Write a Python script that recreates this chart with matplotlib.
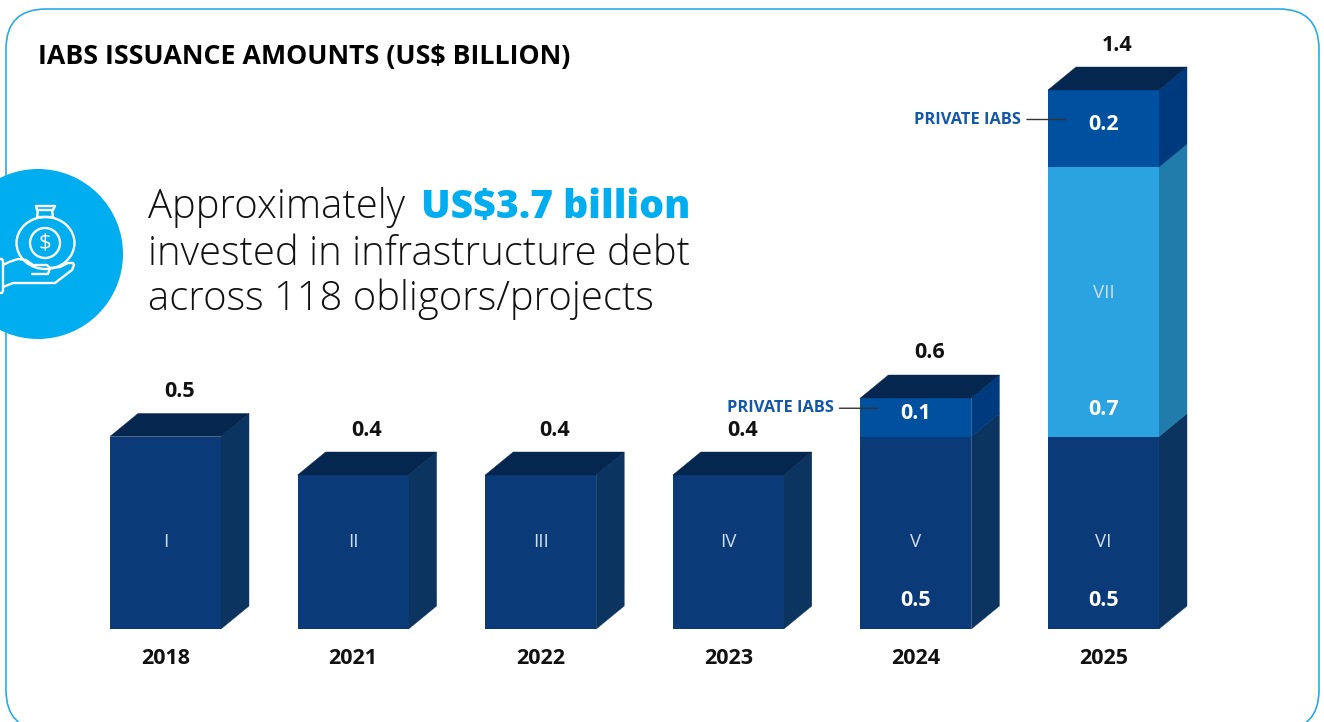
import matplotlib

matplotlib.use("Agg")
import matplotlib.pyplot as plt
from matplotlib.patches import Circle, Ellipse, FancyBboxPatch, Polygon

WIDTH_PX = 1324
HEIGHT_PX = 722
DPI = 100

# chart values, US$ billion
YEARS = ["2018", "2021", "2022", "2023", "2024", "2025"]
SERIES_NAMES = ["I", "II", "III", "IV", "V", "VI"]
BASE = [0.5, 0.4, 0.4, 0.4, 0.5, 0.5]
UPPER = [0, 0, 0, 0, 0, 0.7]
UPPER_NAMES = ["", "", "", "", "", "VII"]
PRIVATE = [0, 0, 0, 0, 0.1, 0.2]
TOTALS = [0.5, 0.4, 0.4, 0.4, 0.6, 1.4]

# axis scale and box geometry
PX_PER_BILLION = 385
BASELINE_PX = 629
STEP_PX = 187.6
FIRST_CENTRE_PX = 165.5
BAR_PX = 111
DEPTH_X_PX = 28
DEPTH_Y_PX = 23

NAVY = "#0A3A78"
NAVY_SIDE = "#0C3460"
TOP_FACE = "#05274F"
SKY = "#2BA3E0"
SKY_SIDE = "#217CAB"
ROYAL = "#0050A0"
ROYAL_SIDE = "#003A7E"
CYAN = "#00AEEF"
FRAME = "#29ABE2"
LABEL_BLUE = "#1257A8"
NUMERAL = "#D0DEEC"

plt.rcParams["font.family"] = ["Open Sans", "DejaVu Sans"]

fig = plt.figure(figsize=(WIDTH_PX / DPI, HEIGHT_PX / DPI), dpi=DPI)

# backdrop layer in pixel units: frame, badge and headline
bg = fig.add_axes([0, 0, 1, 1])
bg.set_xlim(0, WIDTH_PX)
bg.set_ylim(HEIGHT_PX, 0)
bg.axis("off")

bg.add_patch(FancyBboxPatch((6, 9), 1313, 721, boxstyle="round,pad=0,rounding_size=40",
                            facecolor="white", edgecolor=FRAME, linewidth=1.2))
bg.add_patch(Circle((38, 254), 85, facecolor=CYAN, edgecolor="none"))


def icon_line(xs, ys):
    bg.plot(xs, ys, color="white", linewidth=1.7, solid_capstyle="round", solid_joinstyle="round")


# money bag held over an open hand
bg.add_patch(Ellipse((45.5, 243), 58, 52, fill=False, edgecolor="white", linewidth=1.7))
bg.add_patch(Circle((45, 243), 15, fill=False, edgecolor="white", linewidth=1.7))
bg.text(45, 243.5, "$", color="white", fontsize=16, ha="center", va="center")
icon_line([36, 55, 53, 37, 36], [206, 206, 210, 210, 206])
icon_line([38, 37, 53, 52], [210, 217, 217, 210])
icon_line([3, 9, 18, 26, 33, 47, 50, 48, 32], [265, 262, 259, 260, 265, 265, 268, 274, 274])
icon_line([50, 60, 68, 73, 74, 72, 55, 13, 3], [268, 267, 263, 263, 265, 270, 283, 283, 287])
icon_line([-1, 2, 3, 3, 2, -1], [259, 259, 261, 291, 293, 293])

bg.text(38, 64, "IABS ISSUANCE AMOUNTS (US$ BILLION)", color="black", fontsize=19.3,
        fontweight="bold", va="baseline")
bg.text(148, 218, "Approximately", color="#111111", fontsize=28.8, fontweight=300, va="baseline")
bg.text(421, 218, "US$3.7 billion", color=CYAN, fontsize=28.2, fontweight=800, va="baseline")
bg.text(148, 265, "invested in infrastructure debt", color="#111111", fontsize=28.8,
        fontweight=300, va="baseline")
bg.text(148, 310, "across 118 obligors/projects", color="#111111", fontsize=28.8,
        fontweight=300, va="baseline")

# chart layer: x in category positions, y in US$ billion
ax = fig.add_axes([0, 0, 1, 1], facecolor="none")
ax.set_xlim(-FIRST_CENTRE_PX / STEP_PX, (WIDTH_PX - FIRST_CENTRE_PX) / STEP_PX)
ax.set_ylim(-(HEIGHT_PX - BASELINE_PX) / PX_PER_BILLION, BASELINE_PX / PX_PER_BILLION)
ax.axis("off")

bar_w = BAR_PX / STEP_PX
depth_x = DEPTH_X_PX / STEP_PX
depth_y = DEPTH_Y_PX / PX_PER_BILLION


def px_label(text, x, y, dy_px=0, **kw):
    ax.annotate(text, (x, y), xytext=(0, dy_px), textcoords="offset pixels",
                ha=kw.pop("ha", "center"), va=kw.pop("va", "center"), **kw)


def draw_segment(i, bottom, height, front, side):
    left = i - bar_w / 2
    right = i + bar_w / 2
    top = bottom + height
    ax.bar(i, height, width=bar_w, bottom=bottom, color=front, linewidth=0, zorder=3)
    ax.add_patch(Polygon([(right, bottom), (right + depth_x, bottom + depth_y),
                          (right + depth_x, top + depth_y), (right, top)],
                         facecolor=side, edgecolor=side, linewidth=0.3, zorder=2))
    return left, right, top


for i, year in enumerate(YEARS):
    left, right, top = draw_segment(i, 0, BASE[i], NAVY, NAVY_SIDE)
    px_label(SERIES_NAMES[i], i, 0, dy_px=87, color=NUMERAL, fontsize=13.5, zorder=6)
    px_label(year, i, 0, dy_px=-29, color="#111111", fontsize=15.5, fontweight="bold")

    # only stacked columns carry their base value inside the box
    if UPPER[i] or PRIVATE[i]:
        px_label(f"{BASE[i]:.1f}", i, 0, dy_px=29, color="white", fontsize=15.5,
                 fontweight="bold", zorder=6)

    if UPPER[i]:
        bottom = top
        left, right, top = draw_segment(i, bottom, UPPER[i], SKY, SKY_SIDE)
        px_label(UPPER_NAMES[i], i, bottom + UPPER[i] / 2, dy_px=9, color=NUMERAL,
                 fontsize=13.5, zorder=6)
        px_label(f"{UPPER[i]:.1f}", i, bottom, dy_px=27, color="white", fontsize=15.5,
                 fontweight="bold", zorder=6)

    if PRIVATE[i]:
        bottom = top
        left, right, top = draw_segment(i, bottom, PRIVATE[i], ROYAL, ROYAL_SIDE)
        mid = bottom + PRIVATE[i] / 2
        px_label(f"{PRIVATE[i]:.1f}", i, mid, dy_px=4, color="white", fontsize=15.5,
                 fontweight="bold", zorder=6)
        # leader runs from the caption into the private segment
        ax.annotate("", xy=(left + 18 / STEP_PX, mid + 9 / PX_PER_BILLION),
                    xytext=(left - 21 / STEP_PX, mid + 9 / PX_PER_BILLION),
                    arrowprops=dict(arrowstyle="-", color="#333333", linewidth=1, shrinkA=0, shrinkB=0),
                    zorder=5)
        px_label("PRIVATE IABS", left - 27 / STEP_PX, mid, dy_px=9, ha="right", color=LABEL_BLUE,
                 fontsize=11.8, fontweight="bold")

    ax.add_patch(Polygon([(left, top), (left + depth_x, top + depth_y),
                          (right + depth_x, top + depth_y), (right, top)],
                         facecolor=TOP_FACE, edgecolor=TOP_FACE, linewidth=0.3, zorder=4))
    # totals sit over the middle of the whole box, side face included
    px_label(f"{TOTALS[i]:.1f}", i + depth_x / 2, top + depth_y, dy_px=22, color="#111111",
             fontsize=15.5, fontweight="bold")

fig.savefig("out.png", dpi=DPI)
